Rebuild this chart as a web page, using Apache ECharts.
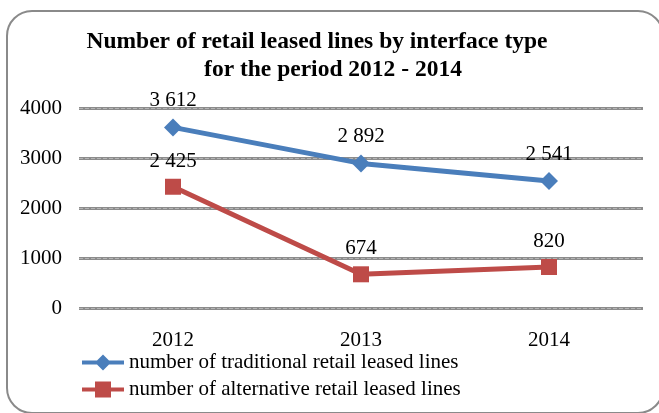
<!DOCTYPE html>
<html>
<head>
<meta charset="utf-8">
<script src="https://cdn.jsdelivr.net/npm/echarts@6/dist/echarts.min.js"></script>
<style>
  html, body { margin: 0; padding: 0; background: #fff; }
  #chart { width: 659px; height: 413px; }
</style>
</head>
<body>
<div id="chart"></div>
<script>
// Retail leased lines, 2012-2014
const years = ['2012', '2013', '2014'];
const traditionalLines = [3612, 2892, 2541];
const alternativeLines = [2425, 674, 820];
const yTicks = [0, 1000, 2000, 3000, 4000];

const seriesNames = [
  'number of traditional retail leased lines',
  'number of alternative retail leased lines'
];

const serif = '"Liberation Serif", "Times New Roman", serif';
// thousands separated by a space, e.g. 3 612
const fmt = v => String(v).replace(/\B(?=(\d{3})+(?!\d))/g, ' ');

// legend keys: a thick line with the series marker in the middle (42 x 16 box)
const diamondKey = 'path://M0 6H15L21 0L27 6H42V10H27L21 16L15 10H0Z';
const squareKey = 'path://M0 6H13V0H29V6H42V10H29V16H13V10H0Z';

const labelStyle = {
  show: true, position: 'top', distance: 7,
  fontFamily: serif, fontSize: 21, color: '#000',
  formatter: p => fmt(p.value)
};

const titleFont = { fontFamily: serif, fontSize: 23.5, fontWeight: 'bold', color: '#000' };

const chart = echarts.init(document.getElementById('chart'));
chart.setOption({
  animation: false,
  backgroundColor: '#fff',
  graphic: [{
    type: 'rect',
    shape: { x: 7, y: 11, width: 656, height: 402, r: 25 },
    style: { fill: 'none', stroke: '#8a8a8a', lineWidth: 2 },
    z: -1
  }],
  title: [
    {
      text: 'Number of retail leased lines by interface type',
      left: 317, top: 30, textAlign: 'center', padding: 0,
      textStyle: titleFont
    },
    {
      text: 'for the period 2012 - 2014',
      left: 333, top: 58, textAlign: 'center', padding: 0,
      textStyle: titleFont
    }
  ],
  legend: {
    orient: 'vertical',
    left: 82,
    top: 352,
    padding: 0,
    itemWidth: 42,
    itemHeight: 16,
    itemGap: 6,
    textStyle: { fontFamily: serif, fontSize: 21, color: '#000' },
    data: [
      { name: seriesNames[0], icon: diamondKey },
      { name: seriesNames[1], icon: squareKey }
    ]
  },
  grid: { left: 79, right: 16, top: 108, bottom: 105 },
  xAxis: {
    type: 'category',
    data: years,
    boundaryGap: true,
    axisLine: { show: false },
    axisTick: { show: false },
    axisLabel: { fontFamily: serif, fontSize: 21, color: '#000', margin: 22 }
  },
  yAxis: [
    {
      type: 'value',
      min: yTicks[0],
      max: yTicks[yTicks.length - 1],
      interval: 1000,
      axisLine: { show: false },
      axisTick: { show: false },
      axisLabel: {
        fontFamily: serif, fontSize: 21, color: '#000', margin: 17,
        formatter: v => String(v)
      },
      splitLine: { lineStyle: { color: '#8c8c8c', width: 3 } }
    },
    {
      // light dashed texture running along the gridlines
      type: 'value',
      position: 'left',
      min: yTicks[0],
      max: yTicks[yTicks.length - 1],
      interval: 1000,
      axisLine: { show: false },
      axisTick: { show: false },
      axisLabel: { show: false },
      splitLine: { lineStyle: { color: '#b4b4b4', width: 1, type: [4, 2] } }
    }
  ],
  series: [
    {
      name: seriesNames[0],
      type: 'line',
      data: traditionalLines,
      symbol: 'diamond',
      symbolSize: 18,
      lineStyle: { color: '#4a7ebb', width: 5 },
      itemStyle: { color: '#4a7ebb' },
      label: labelStyle
    },
    {
      name: seriesNames[1],
      type: 'line',
      data: alternativeLines,
      symbol: 'rect',
      symbolSize: 16,
      lineStyle: { color: '#be4b48', width: 5 },
      itemStyle: { color: '#be4b48' },
      label: labelStyle
    }
  ]
});
</script>
</body>
</html>
